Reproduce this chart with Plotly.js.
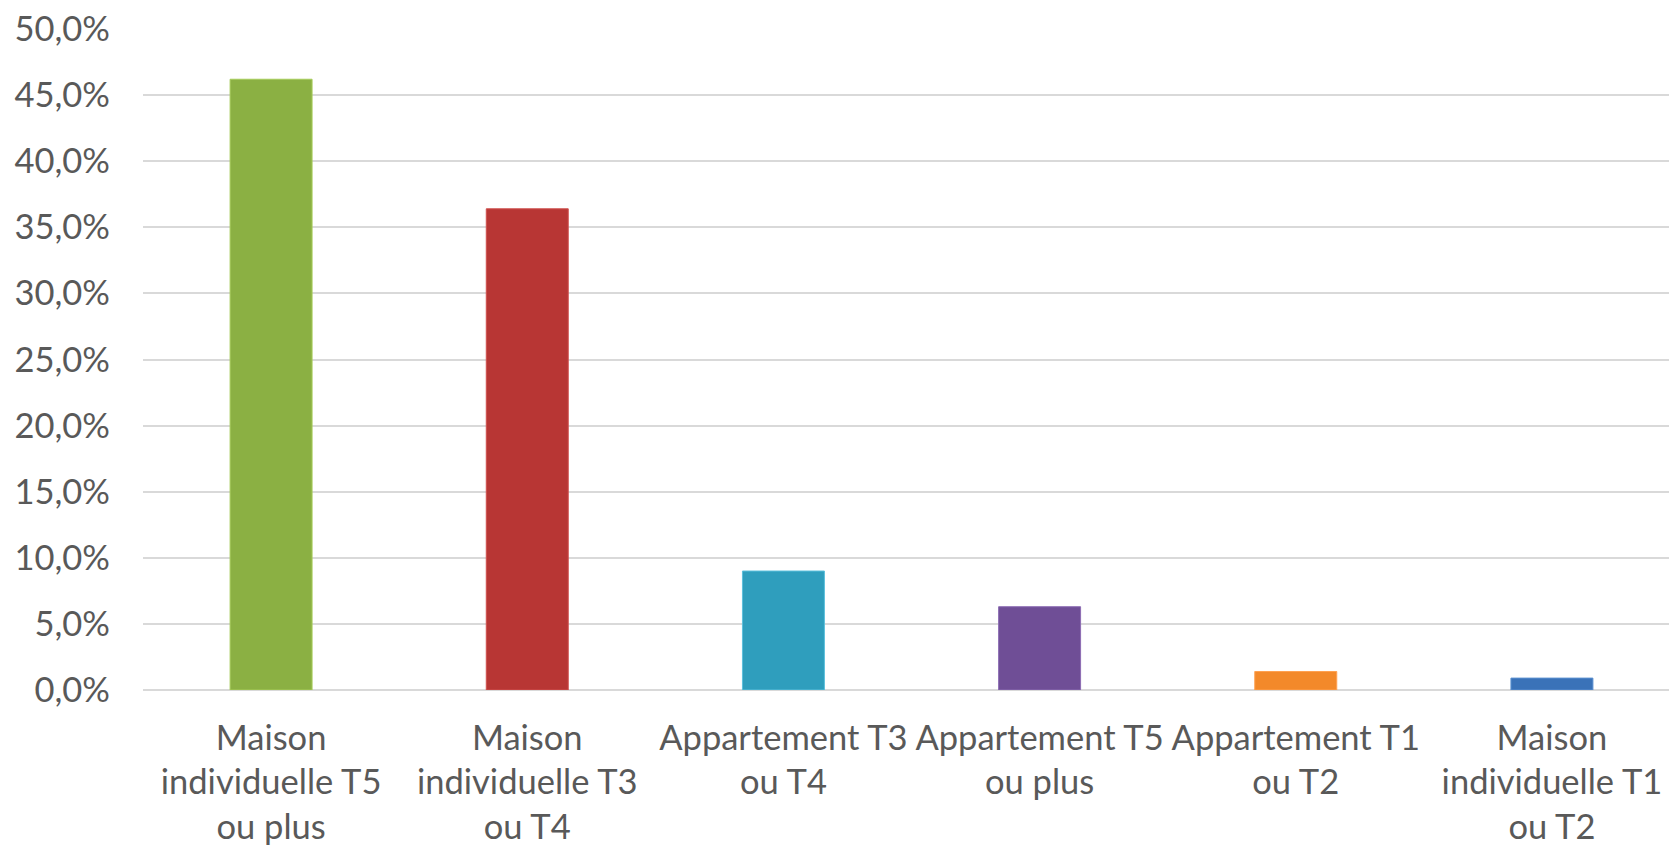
<!DOCTYPE html>
<html>
<head>
<meta charset="utf-8">
<script src="https://cdn.plot.ly/plotly-3.0.1.min.js"></script>
<style>html,body{margin:0;padding:0;background:#fff;}#chart{width:1669px;height:845px;}</style>
</head>
<body>
<div id="chart"></div>
<script>
const categories = [
  "Maison<br>individuelle T5<br>ou plus",
  "Maison<br>individuelle T3<br>ou T4",
  "Appartement T3<br>ou T4",
  "Appartement T5<br>ou plus",
  "Appartement T1<br>ou T2",
  "Maison<br>individuelle T1<br>ou T2"
];
const values = [46.2, 36.4, 9.0, 6.3, 1.4, 0.9];
const barColors = ["#8bb043", "#b83634", "#2f9ebd", "#6f4e96", "#f3892a", "#3a72b8"];
const edgeColors = ["#a6cc5a", "#d0514e", "#5cc0dc", "#8c6cb3", "#ffa050", "#5a8fd0"];
const yTickStep = 5;
const yMax = 50;

const font = "Lato, 'Open Sans', sans-serif";
const fsize = 34.5;

Plotly.newPlot("chart", [{
  type: "bar",
  x: categories,
  y: values,
  marker: {color: barColors, line: {color: edgeColors, width: 1}},
  hoverinfo: "skip"
}], {
  width: 1669,
  height: 845,
  margin: {l: 143, r: 0, t: 29, b: 155},
  paper_bgcolor: "#ffffff",
  plot_bgcolor: "#ffffff",
  separators: ", ",
  bargap: 0.68,
  showlegend: false,
  font: {family: font, color: "#595959", size: fsize},
  xaxis: {
    range: [-0.5, 5.457],
    showgrid: false,
    showline: false,
    ticks: "",
    ticklabelstandoff: 24,
    tickfont: {family: font, size: fsize, color: "#595959"},
    tickangle: 0,
    automargin: false
  },
  yaxis: {
    range: [0, yMax],
    tickmode: "linear",
    tick0: 0,
    dtick: yTickStep,
    tickformat: ".1f",
    ticksuffix: "%",
    showticksuffix: "all",
    showgrid: true,
    gridcolor: "#d9d9d9",
    gridwidth: 2,
    zeroline: true,
    zerolinecolor: "#d9d9d9",
    zerolinewidth: 2,
    showline: false,
    ticks: "",
    ticklabelstandoff: 32,
    tickfont: {family: font, size: fsize, color: "#595959"},
    automargin: false
  }
}, {displayModeBar: false, staticPlot: true});
</script>
</body>
</html>
